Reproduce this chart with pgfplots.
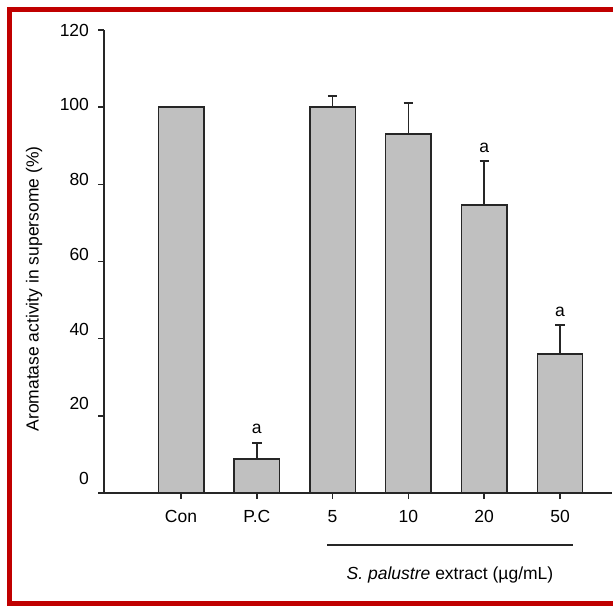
\documentclass[border=0pt]{standalone}
\usepackage{fontspec}
\setmainfont{Liberation Sans}
\usepackage{pgfplots}
\pgfplotsset{compat=1.18}
\definecolor{framered}{RGB}{192,0,0}
\definecolor{barfill}{RGB}{192,192,192}
\begin{document}
\fontsize{17.5}{20}\selectfont
\begin{tikzpicture}
\useasboundingbox (0pt,0pt) rectangle (613pt,606pt);
\draw[framered, line width=5pt] (9.5pt,2.5pt) rectangle (630pt,596pt);
\begin{axis}[
  at={(104pt,113pt)}, anchor=south west,
  scale only axis, width=508pt, height=463pt,
  xmin=-1.016, xmax=5.686, ymin=0, ymax=120,
  axis lines*=left,
  clip=false,
  axis line style={line width=1.5pt, black!85},
  x axis line style={shorten <=-6pt},
  xtick={0,1,2,3,4,5},
  xticklabels={Con,P.C,5,10,20,50},
  ytick={0,20,40,60,80,100,120},
  tick align=outside,
  major tick length=6pt,
  every tick/.style={line width=1.5pt, black!85},
  major tick style={line width=1.5pt, black!85},
  /pgf/number format/assume math mode=true,
  tick label style={font=\fontsize{17.5}{20}\selectfont},
  yticklabel style={xshift=-3pt, yshift={(6-\ticknum)*2.4pt}},
  xticklabel style={yshift=-5pt},
  ybar, bar width=0.6,
]
\addplot[fill=barfill, draw=black!85, line width=1.5pt,
  error bars/.cd, y dir=plus, y explicit,
  error bar style={line width=1.5pt, black!85},
  error mark options={rotate=90, line width=1.5pt, mark size=4.7pt, black!85}]
coordinates {
  (0,100) +- (0,0)
  (1,8.8) +- (0,4.2)
  (2,100) +- (0,2.9)
  (3,93.0) +- (0,8.1)
  (4,74.6) +- (0,11.4)
  (5,36.0) +- (0,7.5)
};
\node[anchor=south, inner sep=0pt] at (axis cs:1,15.2) {a};
\node[anchor=south, inner sep=0pt] at (axis cs:4,88.2) {a};
\node[anchor=south, inner sep=0pt] at (axis cs:5,45.7) {a};
\end{axis}
\node[rotate=90] at (34pt,317pt) {Aromatase activity in supersome (\%)};
\draw[line width=1.5pt, black!85] (327pt,61pt) -- (573pt,61pt);
\node at (450pt,31pt) {\textit{S. palustre} extract (µg/mL)};
\end{tikzpicture}
\end{document}
